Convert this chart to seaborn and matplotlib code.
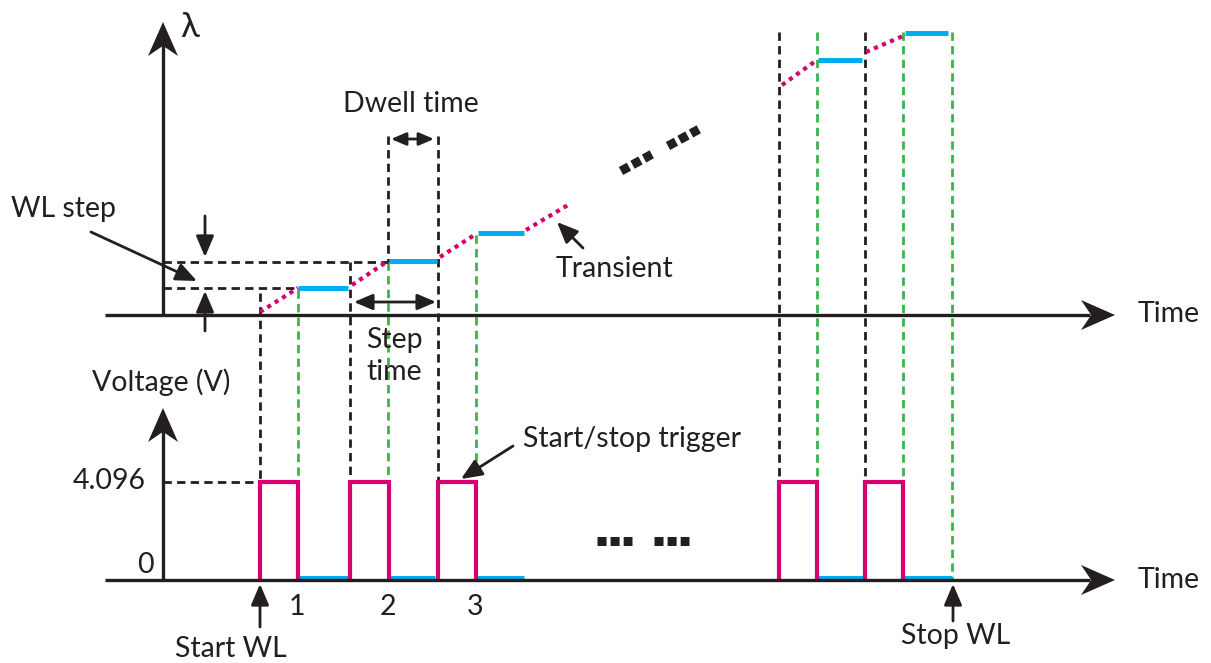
import numpy as np
import pandas as pd
import matplotlib.pyplot as plt
import seaborn as sns
from matplotlib.patches import Polygon

# Colours
BLACK = '#231f20'
MAGENTA = '#d6006f'
CYAN = '#00aeef'
GREEN = '#39b54a'

# --- diagram values (picture pixel units, y grows downwards) ---
# trigger pulses: rising and falling edges, 0 V and 4.096 V levels
trig_rise = [260, 350, 438, 779, 865]
trig_fall = [298, 389, 476, 817, 903]
v_zero, v_high = 580, 482
# dwell plateaus on the wavelength plot
dwell_start = [298, 389, 478, 818, 905]
dwell_end = [348, 437, 524, 862, 948]
wl_level = [288, 261, 233, 60, 33]
# dwell markers on the voltage time axis
low_start = [298, 389, 476, 817, 903]
low_end = [348, 435, 524, 863, 952]
# transients between plateaus
trans_x0 = [260, 352, 440, 526, 782, 866]
trans_x1 = [298, 388, 476, 568, 817, 903]
trans_y0 = [312, 285, 257, 230, 85, 52]
trans_y1 = [288, 261, 234, 205, 60, 36]
# black dashed guides (vertical)
blk_x = [260, 350, 438, 388, 779, 865]
blk_top = [293, 262, 136, 136, 32, 32]
blk_bot = [482, 482, 482, 262, 482, 482]
# green dashed guides (vertical)
grn_x = [298, 388, 476, 817, 903, 952]
grn_top = [290, 262, 235, 32, 32, 32]
grn_bot = [482, 482, 482, 482, 482, 580]
# black dashed guides (horizontal): y, x end
hdash_y = [288, 262, 482]
hdash_end = [298, 388, 260]
step_labels = ['1', '2', '3']

sns.set_theme(style='white')
plt.rcParams['font.family'] = ['Lato', 'DejaVu Sans']

fig = plt.figure(figsize=(12.11, 6.63), dpi=100)
ax = fig.add_axes([0, 0, 1, 1])

DASH = dict(lw=2.0, dashes=(3.0, 1.9), dash_capstyle='butt', zorder=1)

# dashed guide lines
for x, t, b in zip(blk_x, blk_top, blk_bot):
    ax.plot([x, x], [t, b], color=BLACK, **DASH)
for x, t, b in zip(grn_x, grn_top, grn_bot):
    ax.plot([x, x], [t, b], color=GREEN, **DASH)
for y, e in zip(hdash_y, hdash_end):
    ax.plot([163, e], [y, y], color=BLACK, **DASH)

# trigger pulse train
rows = []
for i, (r, f) in enumerate(zip(trig_rise, trig_fall)):
    for t, v in [(r, v_zero), (r, v_high), (f, v_high), (f, v_zero)]:
        rows.append({'t': t, 'v': v, 'pulse': i})
pulses = pd.DataFrame(rows)
sns.lineplot(data=pulses, x='t', y='v', units='pulse', estimator=None, sort=False,
             color=MAGENTA, lw=3.0, solid_joinstyle='miter', ax=ax, zorder=4)

# dwell plateaus (wavelength) and dwell markers (voltage)
rows = []
for i, (s, e, w) in enumerate(zip(dwell_start, dwell_end, wl_level)):
    rows += [{'t': s, 'y': w, 'seg': i}, {'t': e, 'y': w, 'seg': i}]
for i, (s, e) in enumerate(zip(low_start, low_end)):
    rows += [{'t': s, 'y': 578, 'seg': 10 + i}, {'t': e, 'y': 578, 'seg': 10 + i}]
dwell = pd.DataFrame(rows)
sns.lineplot(data=dwell, x='t', y='y', units='seg', estimator=None, sort=False,
             color=CYAN, lw=3.6, solid_capstyle='butt', ax=ax, zorder=3)

# transients (dotted)
for x0, x1, y0, y1 in zip(trans_x0, trans_x1, trans_y0, trans_y1):
    ax.plot([x0, x1], [y0, y1], color=MAGENTA, lw=3.0, dashes=(1.0, 1.1),
            dash_capstyle='butt', zorder=3)


def stealth(tip, direction, length, half_w, notch=0.3):
    d = np.array(direction, float)
    d /= np.hypot(*d)
    n = np.array([-d[1], d[0]])
    tip = np.array(tip, float)
    back = tip - d * length
    pts = [tip, back + n * half_w, tip - d * length * (1 - notch), back - n * half_w]
    ax.add_patch(Polygon(pts, closed=True, color=BLACK, lw=0, zorder=6))


# axes of the diagram
AX = dict(color=BLACK, lw=2.4, solid_capstyle='butt', zorder=5)
ax.plot([163, 163], [315, 45], **AX)
stealth((163, 22), (0, -1), 34, 15)
ax.plot([105, 1090], [315, 315], **AX)
stealth((1115, 315), (1, 0), 34, 15)
ax.plot([163, 163], [580, 430], **AX)
stealth((163, 408), (0, -1), 34, 15)
ax.plot([105, 1090], [580, 580], **AX)
stealth((1115, 580), (1, 0), 34, 15)


# small arrows
def arrow(tail, head, style='-|>', scale=17):
    ax.annotate('', xy=head, xytext=tail,
                arrowprops=dict(arrowstyle=style + ',head_length=0.75,head_width=0.32',
                                color=BLACK, lw=2.0, shrinkA=0, shrinkB=0,
                                mutation_scale=scale), zorder=6)


arrow((91, 232), (197, 281))
arrow((205, 216), (205, 257))
arrow((205, 331), (205, 291))
arrow((391, 139), (434, 139), '<|-|>', 12)
arrow((354, 302), (436, 302), '<|-|>', 15)
arrow((583, 248), (557, 222))
arrow((513, 446), (461, 479))
arrow((260, 627), (260, 584))
arrow((953, 621), (953, 584))


# "more steps" ellipses: three square dots per group
def dots(start, direction):
    d = np.array(direction, float)
    d /= np.hypot(*d)
    end = np.array(start, float) + d * 35
    ax.plot([start[0], end[0]], [start[1], end[1]], color=BLACK, lw=6.5,
            dashes=(1.0, 0.45), dash_capstyle='butt', zorder=5)


dots((621, 171), (35, -19))
dots((668, 146), (35, -19))
dots((597, 541), (1, 0))
dots((654, 541), (1, 0))

# texts
FS = 20.5
TXT = dict(color=BLACK, fontsize=FS)
ax.text(190, 27, 'λ', ha='center', va='center', color=BLACK, fontsize=25)
ax.text(1138, 314, 'Time', ha='left', va='center', **TXT)
ax.text(1138, 580, 'Time', ha='left', va='center', **TXT)
ax.text(161, 382, 'Voltage (V)', ha='center', va='center', **TXT)
ax.text(146, 481, '4.096', ha='right', va='center', **TXT)
ax.text(154, 565, '0', ha='right', va='center', **TXT)
ax.text(11, 209, 'WL step', ha='left', va='center', **TXT)
ax.text(411, 104, 'Dwell time', ha='center', va='center', **TXT)
ax.text(366, 340, 'Step', ha='left', va='center', **TXT)
ax.text(366, 372, 'time', ha='left', va='center', **TXT)
ax.text(556, 269, 'Transient', ha='left', va='center', **TXT)
ax.text(523, 439, 'Start/stop trigger', ha='left', va='center', **TXT)
for x, lab in zip(trig_fall[:3], step_labels):
    ax.text(x - 1, 607, lab, ha='center', va='center', **TXT)
ax.text(231, 649, 'Start WL', ha='center', va='center', **TXT)
ax.text(956, 636, 'Stop WL', ha='center', va='center', **TXT)

ax.set_xlim(0, 1211)
ax.set_ylim(663, 0)
ax.axis('off')
fig.savefig('out.png', dpi=100)
